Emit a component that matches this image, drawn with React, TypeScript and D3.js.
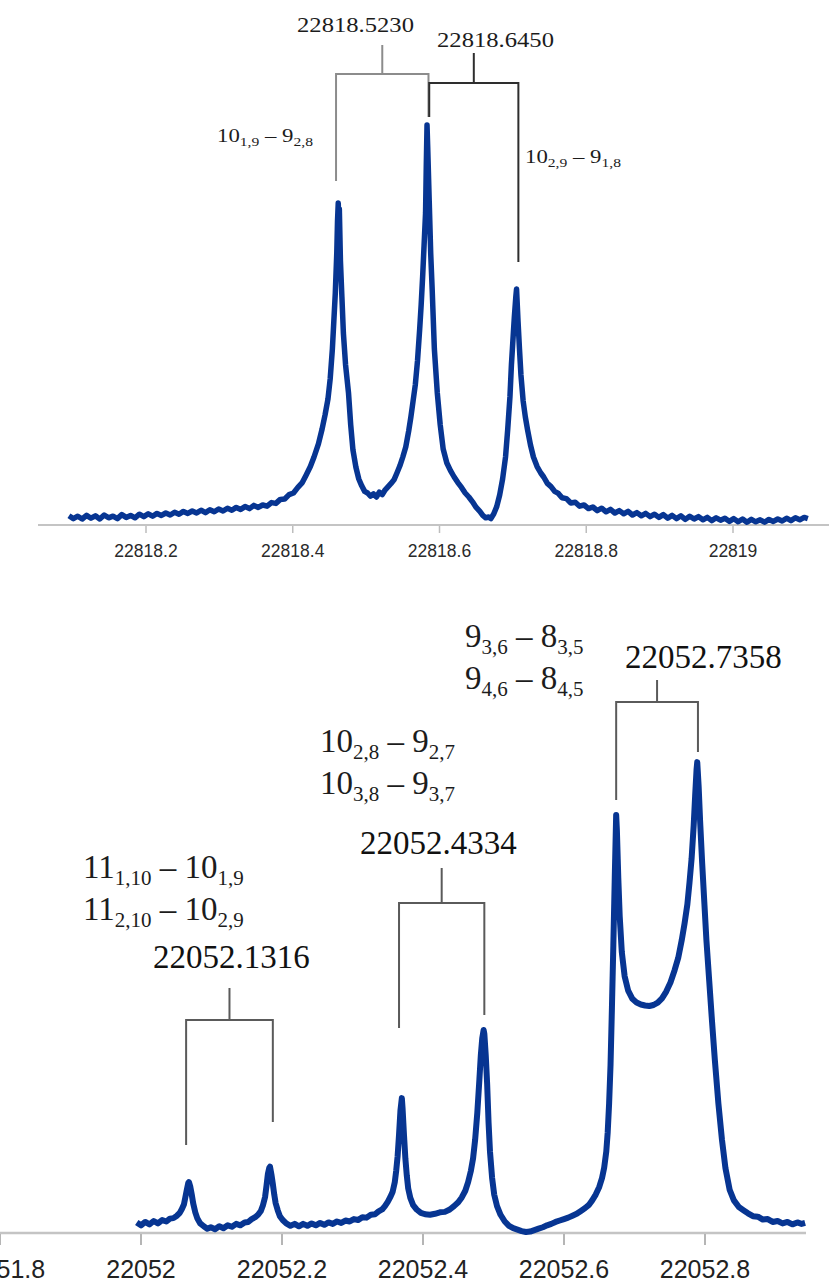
import React from "react";
import * as d3 from "d3";

// tick values of the two frequency axes (MHz)
const topTicks = [22818.2, 22818.4, 22818.6, 22818.8, 22819];
const bottomTicks = [22051.8, 22052, 22052.2, 22052.4, 22052.6, 22052.8];

// upper spectrum: [frequency, intensity (peak = 100)]
const topSpectrum: [number, number][] = [
  [22818.095, 2.3], [22818.101, 1.6], [22818.107, 2.2], [22818.113, 1.5], [22818.119, 2.4],
  [22818.125, 1.7], [22818.131, 2.3], [22818.137, 1.5], [22818.143, 2.5], [22818.149, 1.8],
  [22818.155, 2.2], [22818.161, 1.6], [22818.167, 2.6], [22818.173, 1.9], [22818.179, 2.4],
  [22818.185, 1.8], [22818.191, 2.7], [22818.197, 2.1], [22818.203, 2.8], [22818.209, 2.2],
  [22818.215, 2.9], [22818.221, 2.4], [22818.227, 3.0], [22818.233, 2.5], [22818.239, 3.2],
  [22818.245, 2.7], [22818.251, 3.4], [22818.257, 2.9], [22818.263, 3.5], [22818.269, 3.0],
  [22818.275, 3.7], [22818.281, 3.1], [22818.287, 3.8], [22818.293, 3.3], [22818.299, 4.0],
  [22818.305, 3.5], [22818.311, 4.2], [22818.317, 3.7], [22818.323, 4.4], [22818.329, 3.9],
  [22818.335, 4.6], [22818.341, 4.1], [22818.347, 4.9], [22818.353, 4.4], [22818.359, 5.0],
  [22818.365, 4.7], [22818.371, 5.6], [22818.377, 5.4], [22818.383, 6.4], [22818.389, 6.5],
  [22818.395, 7.6], [22818.401, 8.0], [22818.407, 9.4], [22818.413, 10.6], [22818.418, 12.4],
  [22818.424, 14.6], [22818.429, 17.0], [22818.435, 20.3], [22818.44, 24.0], [22818.444, 27.5],
  [22818.448, 31.5], [22818.451, 36.5], [22818.454, 44.0], [22818.456, 51.0], [22818.458, 58.0],
  [22818.46, 68.0], [22818.461, 76.0], [22818.462, 80.5], [22818.463, 74.0], [22818.4635, 79.0],
  [22818.465, 66.0], [22818.467, 57.0], [22818.469, 48.0], [22818.472, 40.0], [22818.476, 33.0],
  [22818.479, 25.0], [22818.482, 18.8], [22818.486, 14.5], [22818.49, 11.5], [22818.494, 9.8],
  [22818.498, 8.4], [22818.502, 8.0], [22818.506, 7.2], [22818.51, 7.8], [22818.514, 7.0],
  [22818.518, 8.2], [22818.522, 7.6], [22818.526, 8.8], [22818.53, 9.6], [22818.534, 10.4],
  [22818.538, 11.3], [22818.542, 13.0], [22818.546, 14.8], [22818.55, 17.0], [22818.554, 19.5],
  [22818.558, 23.5], [22818.561, 27.0], [22818.564, 31.0], [22818.567, 35.0], [22818.57, 41.0],
  [22818.573, 49.0], [22818.575, 55.0], [22818.577, 62.0], [22818.579, 70.0], [22818.581, 78.0],
  [22818.582, 90.0], [22818.583, 100.0], [22818.584, 94.0], [22818.586, 81.0], [22818.588, 68.0],
  [22818.59, 59.0], [22818.593, 44.0], [22818.597, 33.0], [22818.601, 25.0], [22818.605, 19.0],
  [22818.61, 15.5], [22818.615, 13.6], [22818.62, 12.0], [22818.625, 10.6], [22818.63, 9.4],
  [22818.635, 8.0], [22818.64, 7.0], [22818.645, 5.8], [22818.65, 4.4], [22818.655, 3.4],
  [22818.659, 2.4], [22818.663, 1.8], [22818.667, 2.0], [22818.67, 1.6], [22818.674, 2.8],
  [22818.678, 4.6], [22818.682, 7.5], [22818.686, 11.5], [22818.69, 17.0], [22818.693, 24.0],
  [22818.696, 32.0], [22818.698, 40.0], [22818.7, 46.0], [22818.702, 52.0], [22818.704, 57.0],
  [22818.705, 59.0], [22818.706, 55.0], [22818.707, 51.0], [22818.709, 44.0], [22818.711, 37.5],
  [22818.714, 31.0], [22818.717, 27.0], [22818.72, 23.8], [22818.724, 20.0], [22818.728, 17.0],
  [22818.733, 14.6], [22818.738, 13.0], [22818.742, 12.0], [22818.747, 10.4], [22818.752, 9.6],
  [22818.757, 8.4], [22818.762, 7.9], [22818.767, 6.8], [22818.773, 6.6], [22818.779, 5.5],
  [22818.785, 5.7], [22818.791, 4.7], [22818.797, 5.0], [22818.803, 4.1], [22818.809, 4.5],
  [22818.815, 3.6], [22818.821, 4.2], [22818.827, 3.3], [22818.833, 3.9], [22818.839, 3.0],
  [22818.845, 3.6], [22818.851, 2.8], [22818.857, 3.4], [22818.863, 2.5], [22818.869, 3.1],
  [22818.875, 2.3], [22818.881, 2.9], [22818.887, 2.1], [22818.893, 2.7], [22818.899, 1.9],
  [22818.905, 2.6], [22818.911, 1.7], [22818.917, 2.4], [22818.923, 1.6], [22818.929, 2.3],
  [22818.935, 1.4], [22818.941, 2.2], [22818.947, 1.5], [22818.953, 2.1], [22818.959, 1.3],
  [22818.965, 1.9], [22818.971, 1.1], [22818.977, 1.8], [22818.983, 1.2], [22818.989, 1.7],
  [22818.995, 0.9], [22819.001, 1.6], [22819.007, 0.8], [22819.013, 1.5], [22819.019, 0.7],
  [22819.025, 1.4], [22819.031, 0.8], [22819.037, 1.3], [22819.043, 0.7], [22819.049, 1.4],
  [22819.055, 0.9], [22819.061, 1.5], [22819.067, 1.0], [22819.073, 1.7], [22819.079, 1.1],
  [22819.085, 1.8], [22819.091, 1.3], [22819.097, 1.9], [22819.102, 1.6],
];

// lower spectrum: [frequency, intensity (peak = 100)]
const bottomSpectrum: [number, number][] = [
  [22051.994, 2.2], [22052.0, 1.6], [22052.006, 2.3], [22052.012, 1.8], [22052.018, 2.5],
  [22052.024, 2.0], [22052.03, 2.7], [22052.036, 2.4], [22052.041, 3.0], [22052.046, 3.1],
  [22052.051, 3.6], [22052.055, 4.2], [22052.058, 5.0], [22052.061, 6.0], [22052.063, 7.5],
  [22052.065, 9.0], [22052.067, 10.4], [22052.068, 10.6], [22052.07, 9.6], [22052.072, 8.0],
  [22052.074, 6.2], [22052.077, 4.3], [22052.08, 3.0], [22052.084, 2.0], [22052.089, 1.4],
  [22052.094, 0.9], [22052.099, 1.2], [22052.105, 0.8], [22052.111, 1.4], [22052.117, 1.0],
  [22052.123, 1.6], [22052.129, 1.3], [22052.135, 1.9], [22052.141, 1.6], [22052.147, 2.2],
  [22052.152, 2.3], [22052.157, 2.9], [22052.162, 3.3], [22052.166, 3.8], [22052.17, 4.6],
  [22052.173, 5.8], [22052.176, 7.5], [22052.178, 9.8], [22052.18, 12.3], [22052.182, 13.6],
  [22052.183, 13.8], [22052.185, 12.2], [22052.187, 10.2], [22052.189, 8.0], [22052.191, 6.2],
  [22052.194, 4.7], [22052.197, 3.5], [22052.201, 2.7], [22052.206, 2.0], [22052.212, 1.5],
  [22052.218, 1.9], [22052.224, 1.4], [22052.23, 1.9], [22052.236, 1.5], [22052.242, 2.0],
  [22052.248, 1.6], [22052.254, 2.1], [22052.26, 1.7], [22052.266, 2.2], [22052.272, 1.9],
  [22052.278, 2.4], [22052.284, 2.1], [22052.29, 2.6], [22052.296, 2.4], [22052.302, 2.9],
  [22052.308, 2.7], [22052.314, 3.3], [22052.32, 3.2], [22052.326, 3.8], [22052.332, 3.9],
  [22052.337, 4.5], [22052.342, 4.9], [22052.346, 5.6], [22052.35, 6.5], [22052.354, 7.6],
  [22052.357, 8.6], [22052.36, 10.6], [22052.362, 13.0], [22052.364, 16.0], [22052.366, 20.5],
  [22052.368, 25.5], [22052.37, 28.1], [22052.371, 26.0], [22052.373, 20.5], [22052.375, 15.5],
  [22052.377, 12.0], [22052.379, 9.3], [22052.382, 7.3], [22052.386, 5.8], [22052.391, 4.9],
  [22052.397, 4.2], [22052.403, 3.9], [22052.41, 3.8], [22052.417, 4.0], [22052.424, 4.3],
  [22052.431, 4.4], [22052.438, 4.9], [22052.444, 5.6], [22052.45, 6.4], [22052.455, 7.4],
  [22052.46, 8.8], [22052.464, 10.6], [22052.468, 13.0], [22052.471, 15.5], [22052.474, 19.5],
  [22052.477, 25.0], [22052.48, 32.0], [22052.482, 37.0], [22052.484, 40.5], [22052.486, 42.3],
  [22052.487, 41.5], [22052.489, 37.0], [22052.491, 31.0], [22052.493, 23.0], [22052.495, 17.0],
  [22052.498, 11.5], [22052.501, 8.0], [22052.505, 5.6], [22052.51, 3.8], [22052.516, 2.4],
  [22052.522, 1.5], [22052.528, 1.0], [22052.534, 0.7], [22052.54, 0.4], [22052.546, 0.2],
  [22052.552, 0.3], [22052.558, 0.6], [22052.564, 0.9], [22052.57, 1.2], [22052.576, 1.6],
  [22052.582, 1.9], [22052.588, 2.3], [22052.594, 2.6], [22052.6, 2.9], [22052.606, 3.2],
  [22052.612, 3.6], [22052.618, 4.0], [22052.624, 4.6], [22052.63, 5.2], [22052.635, 5.8],
  [22052.64, 6.8], [22052.645, 8.0], [22052.65, 9.6], [22052.654, 11.5], [22052.657, 13.6],
  [22052.66, 17.0], [22052.662, 21.0], [22052.664, 27.0], [22052.666, 35.0], [22052.668, 47.0],
  [22052.67, 60.0], [22052.672, 74.0], [22052.674, 87.1], [22052.675, 84.0], [22052.677, 74.0],
  [22052.679, 66.0], [22052.682, 58.5], [22052.686, 53.5], [22052.691, 50.5], [22052.697, 48.8],
  [22052.703, 48.0], [22052.709, 47.6], [22052.715, 47.4], [22052.721, 47.3], [22052.727, 47.5],
  [22052.733, 48.0], [22052.739, 48.9], [22052.745, 50.3], [22052.751, 52.2], [22052.757, 54.8],
  [22052.762, 57.3], [22052.767, 61.0], [22052.771, 64.5], [22052.775, 68.5], [22052.778, 73.0],
  [22052.781, 78.0], [22052.784, 85.0], [22052.786, 91.0], [22052.788, 96.5], [22052.789, 98.1],
  [22052.791, 93.0], [22052.793, 86.0], [22052.796, 77.0], [22052.799, 69.0], [22052.802, 61.0],
  [22052.806, 52.5], [22052.81, 44.0], [22052.814, 36.0], [22052.819, 27.0], [22052.824, 19.5],
  [22052.829, 13.5], [22052.835, 9.0], [22052.841, 6.8], [22052.848, 5.4], [22052.855, 4.7],
  [22052.861, 4.1], [22052.868, 3.5], [22052.875, 3.4], [22052.882, 2.8], [22052.889, 2.9],
  [22052.896, 2.3], [22052.903, 2.5], [22052.91, 2.0], [22052.917, 2.3], [22052.924, 1.8],
  [22052.931, 2.2], [22052.937, 1.9], [22052.942, 2.1],
];

// bracket annotations: legs sit on the two components of each doublet
const topDoublets = [
  { left: 22818.459, right: 22818.585, center: "22818.5230" },
  { left: 22818.586, right: 22818.7075, center: "22818.6450" },
];
const bottomDoublets = [
  { left: 22052.064, right: 22052.187, center: "22052.1316" },
  { left: 22052.366, right: 22052.487, center: "22052.4334" },
  { left: 22052.674, right: 22052.79, center: "22052.7358" },
];

// quantum number labels: [J, "Ka,Kc"] upper and lower levels
type Level = [string, string];
const topTransitions: [Level, Level][] = [
  [["10", "1,9"], ["9", "2,8"]],
  [["10", "2,9"], ["9", "1,8"]],
];
const bottomTransitions: [Level, Level][][] = [
  [[["11", "1,10"], ["10", "1,9"]], [["11", "2,10"], ["10", "2,9"]]],
  [[["10", "2,8"], ["9", "2,7"]], [["10", "3,8"], ["9", "3,7"]]],
  [[["9", "3,6"], ["8", "3,5"]], [["9", "4,6"], ["8", "4,5"]]],
];

const SERIF = "'Liberation Serif', 'Times New Roman', serif";
const SANS = "'Liberation Sans', Arial, sans-serif";
const BLUE = "#073592";

function Transition({ x, y, pair, size, sub, shift, sx = 1 }) {
  const [[a, as], [b, bs]] = pair;
  return (
    <text transform={`translate(${x},${y}) scale(${sx},1)`} fontFamily={SERIF} fontSize={size} fill="#1c1c1c">
      <tspan>{a}</tspan>
      <tspan fontSize={sub} dy={shift}>{as}</tspan>
      <tspan dy={-shift}>{" – "}</tspan>
      <tspan>{b}</tspan>
      <tspan fontSize={sub} dy={shift}>{bs}</tspan>
    </text>
  );
}

function Bracket({ x0, x1, bar, stem, l, r, color }) {
  const mid = (x0 + x1) / 2;
  return (
    <g stroke={color} strokeWidth={2} fill="none">
      <path d={`M${x0},${l}V${bar}H${x1}V${r}`} />
      <line x1={mid} x2={mid} y1={stem} y2={bar} />
    </g>
  );
}

export default function App() {
  // upper panel
  const xT = d3.scaleLinear().domain([22818.2, 22819]).range([146, 733]);
  const yT = d3.scaleLinear().domain([0, 100]).range([525, 125]);
  // lower panel
  const xB = d3.scaleLinear().domain([22052, 22052.8]).range([141, 705]);
  const yB = d3.scaleLinear().domain([0, 100]).range([1233, 753]);

  const lineT = d3.line<[number, number]>().x(d => xT(d[0])).y(d => yT(d[1]));
  const lineB = d3.line<[number, number]>().x(d => xB(d[0])).y(d => yB(d[1]));

  // per-bracket layout: bar height, stem top, left/right leg ends
  const topLayout = [
    { bar: 74, stem: 45, l: 181, r: 117, color: "#8c8c8c", tx: 297, ty: 32 },
    { bar: 83, stem: 53, l: 117, r: 262, color: "#2e2e2e", tx: 437, ty: 47 },
  ];
  const topLabelPos = [[217, 142], [525, 163]];
  const bottomLayout = [
    { bar: 1020, stem: 988, l: 1145, r: 1122, tx: 153, ty: 968, lx: 83, ly: 878 },
    { bar: 903, stem: 868, l: 1028, r: 1015, tx: 360, ty: 854, lx: 320, ly: 752 },
    { bar: 702, stem: 680, l: 800, r: 752, tx: 625, ty: 668, lx: 465, ly: 647 },
  ];

  return (
    <svg width={829} height={1283} style={{ position: "absolute", left: 0, top: 0, background: "#fff" }}>
      {/* upper spectrum */}
      <line x1={38} x2={829} y1={525} y2={525} stroke="#c4c4c4" strokeWidth={2} />
      {topTicks.map(t => (
        <g key={t}>
          <line x1={xT(t)} x2={xT(t)} y1={526} y2={533} stroke="#bdbdbd" strokeWidth={1.5} />
          <text x={xT(t)} y={557} textAnchor="middle" fontFamily={SANS} fontSize={17.5} fill="#2a2a2a">
            {String(t)}
          </text>
        </g>
      ))}
      <path d={lineT(topSpectrum) || ""} fill="none" stroke={BLUE} strokeWidth={5.5} strokeLinejoin="round" />

      {topDoublets.map((d, i) => {
        const L = topLayout[i];
        return (
          <g key={d.center}>
            <Bracket x0={xT(d.left)} x1={xT(d.right)} bar={L.bar} stem={L.stem} l={L.l} r={L.r} color={L.color} />
            <text transform={`translate(${L.tx},${L.ty}) scale(1.12,1)`} fontFamily={SERIF} fontSize={22} fill="#1c1c1c">
              {d.center}
            </text>
          </g>
        );
      })}
      {topTransitions.map((p, i) => (
        <Transition key={i} x={topLabelPos[i][0]} y={topLabelPos[i][1]} pair={p} size={19} sub={13} shift={4} sx={1.2} />
      ))}

      {/* lower spectrum */}
      <line x1={0} x2={806} y1={1233} y2={1233} stroke="#c4c4c4" strokeWidth={2.5} />
      {bottomTicks.map(t => (
        <g key={t}>
          <line x1={xB(t)} x2={xB(t)} y1={1234} y2={1245} stroke="#b5b5b5" strokeWidth={2} />
          <text x={xB(t)} y={1278} textAnchor="middle" fontFamily={SANS} fontSize={25} fill="#222">
            {String(t)}
          </text>
        </g>
      ))}
      <path d={lineB(bottomSpectrum) || ""} fill="none" stroke={BLUE} strokeWidth={6} strokeLinejoin="round" />

      {bottomDoublets.map((d, i) => {
        const L = bottomLayout[i];
        return (
          <g key={d.center}>
            <Bracket x0={xB(d.left)} x1={xB(d.right)} bar={L.bar} stem={L.stem} l={L.l} r={L.r} color="#5a5a5a" />
            <text x={L.tx} y={L.ty} fontFamily={SERIF} fontSize={33} fill="#111">{d.center}</text>
            {bottomTransitions[i].map((p, j) => (
              <Transition key={j} x={L.lx} y={L.ly + j * 42} pair={p} size={33} sub={21} shift={7} />
            ))}
          </g>
        );
      })}
    </svg>
  );
}
